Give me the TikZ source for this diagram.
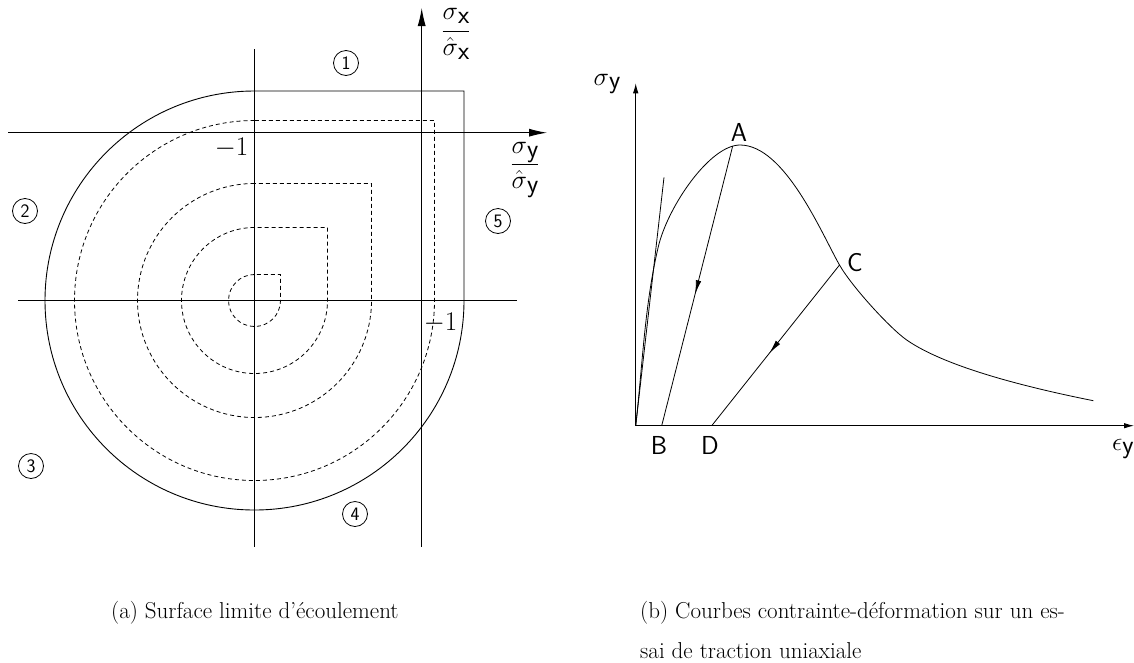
\RequirePackage{fix-cm}
\documentclass[tikz,border=0pt]{standalone}
\usepackage{fontspec}
\usetikzlibrary{arrows.meta,decorations.markings}
\newcommand{\lsub}[1]{\mbox{\sffamily\raisebox{-0.35ex}{#1}}}
\begin{document}
\begin{tikzpicture}[x=1pt,y=-1pt,
  every node/.style={inner sep=0pt},
  thinline/.style={line width=0.9pt},
  dashline/.style={line width=0.8pt, dash pattern=on 4pt off 3pt},
  bigarrow/.style={-{Latex[length=18pt,width=8pt]}},
  smallarrow/.style={-{Latex[length=10pt,width=5.5pt]}},
  midarrow/.style={postaction={decorate},decoration={markings,mark=at position #1 with {\arrow{Latex[length=14pt,width=5.5pt]}}}},
  region/.style={circle,draw,line width=0.8pt,minimum size=25pt,inner sep=0pt,font=\sffamily\fontsize{19}{19}\selectfont},
  lab/.style={font=\sffamily\fontsize{26}{26}\selectfont},
  mathlab/.style={font=\fontsize{26}{30}\selectfont},
  numlab/.style={font=\fontsize{27}{27}\selectfont},
  captext/.style={font=\fontsize{23}{41}\selectfont}
]
\useasboundingbox (0,0) rectangle (1134,662);

% ---------- (a) yield surface ----------
\coordinate (ctr) at (254.5,300.5);
\draw[thinline] (254.5,91) arc[start angle=90,end angle=360,radius=209.5pt] -- (464,91) -- cycle;
\foreach \r in {180,117,73,26}
  \draw[dashline] (254.5,{300.5-\r}) arc[start angle=90,end angle=360,radius=\r pt] -- ({254.5+\r},{300.5-\r}) -- cycle;

\coordinate (hL) at (8,132.7);
\coordinate (hR) at (547,132.7);
\draw[thinline,bigarrow] (hL) -- (hR);
\coordinate (vB) at (421.7,546.7);
\coordinate (vT) at (421.7,8);
\draw[thinline,bigarrow] (vB) -- (vT);
\coordinate (cT) at (254.5,49);
\coordinate (cB) at (254.5,546.7);
\draw[thinline] (cT) -- (cB);
\coordinate (lL) at (18,300.5);
\coordinate (lR) at (517,300.5);
\draw[thinline] (lL) -- (lR);

\node[mathlab] (fx) at (456,34) {$\displaystyle\frac{\sigma\lsub{x}}{\hat{\sigma}\lsub{x}}$};
\node[mathlab] (fy) at (525,170) {$\displaystyle\frac{\sigma\lsub{y}}{\hat{\sigma}\lsub{y}}$};
\node[numlab] (m1a) at (231.5,148) {$-1$};
\node[numlab] (m1b) at (440.5,323) {$-1$};

\node[region] (r1) at (346,63) {1};
\node[region] (r2) at (25,211) {2};
\node[region] (r3) at (31,466) {3};
\node[region] (r4) at (355,514) {4};
\node[region] (r5) at (498,221) {5};

% ---------- (b) stress-strain ----------
\coordinate (O) at (635.7,425.7);
\coordinate (Ytip) at (635.7,83.3);
\coordinate (Xtip) at (1134,425.7);
\draw[thinline,smallarrow] (O) -- (Ytip);
\draw[thinline,smallarrow] (O) -- (Xtip);
\coordinate (T) at (664,177.3);
\draw[line width=0.8pt] (O) -- (T);
\coordinate (K) at (658.3,246.7);
\coordinate (P) at (740,145);
\coordinate (C) at (839.5,265);
\coordinate (M) at (906.7,340);
\coordinate (E) at (1093.3,400.7);
\draw[line width=0.8pt] (O) .. controls (642.5,366) and (644.5,304.9) .. (K)
  .. controls (668,206) and (710,145) .. (P)
  .. controls (785,145) and (822.1,234.6) .. (C)
  .. controls (851.9,286.7) and (890.3,328.6) .. (M)
  .. controls (947.7,368.5) and (1034.5,388.9) .. (E);
\coordinate (A) at (732.7,146);
\coordinate (B) at (661.7,425.7);
\coordinate (D) at (711.7,425.7);
\draw[line width=0.8pt,midarrow=0.53] (A) -- (B);
\draw[line width=0.8pt,midarrow=0.55] (C) -- (D);

\node[mathlab] (sy) at (607,84) {$\sigma\lsub{y}$};
\node[mathlab,anchor=west] (ey) at (1112,449) {$\epsilon\lsub{y}$};
\node[lab] (lA) at (739,132) {A};
\node[lab] (lB) at (659,445) {B};
\node[lab] (lC) at (855,263) {C};
\node[lab] (lD) at (710,445) {D};

% ---------- captions ----------
\node[captext,anchor=base west] (capa) at (111,618) {(a) Surface limite d'écoulement};
\node[captext,anchor=base west] (capb1) at (640,618) {(b) Courbes contrainte-déformation sur un es-};
\node[captext,anchor=base west] (capb2) at (640,658) {sai de traction uniaxiale};
\end{tikzpicture}
\end{document}
